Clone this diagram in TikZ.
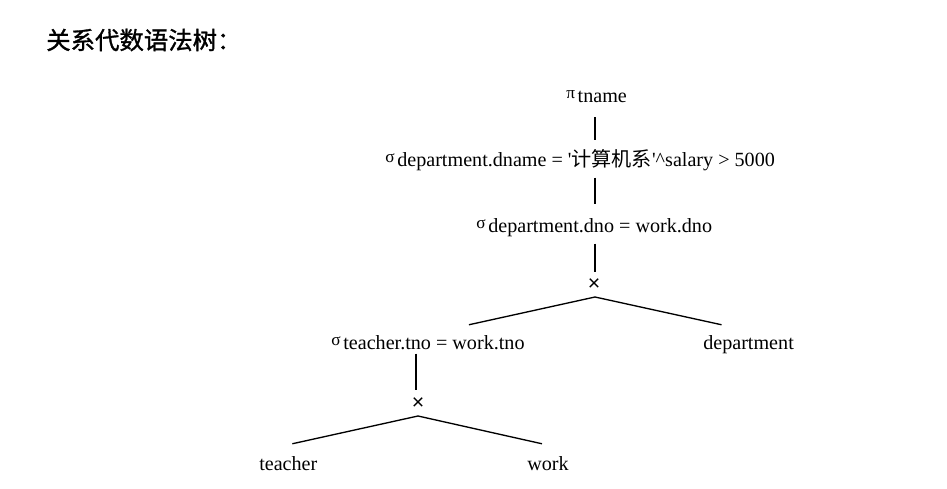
\documentclass[tikz,border=0pt]{standalone}
\usepackage{fontspec}
\setmainfont{Liberation Serif}
\newfontfamily\cjk{Noto Sans CJK SC}
\newfontfamily\cjkhead{Noto Sans CJK SC}[FakeBold=1.2]
\newfontfamily\opfont{Liberation Sans}
\usetikzlibrary{calc}
\newcommand{\opsym}[1]{\raisebox{3pt}{\fontsize{13}{13}\selectfont #1}\hspace{2pt}}
\tikzset{
  rel/.style={inner sep=0pt, anchor=base west, font=\fontsize{15.1}{17}\selectfont},
  prod/.style={inner sep=0pt, font=\opfont\fontsize{16}{16}\selectfont},
  edge/.style={line width=1pt, black},
}
\begin{document}
\begin{tikzpicture}[x=0.75pt, y=-0.75pt]
  \useasboundingbox (0,0) rectangle (947,489);
  % heading
  \node[anchor=west, inner sep=0pt, font=\cjkhead\fontsize{18.3}{20}\selectfont] (title) at (46,40) {关系代数语法树：};
  % operators, top to bottom
  \node[rel] (proj) at (566,102) {\opsym{π}tname};
  \node[rel] (seldn) at (385,166) {\opsym{σ}department.dname = \textquotesingle{\cjk 计算机系}\textquotesingle\textasciicircum salary > 5000};
  \node[rel] (seldno) at (476,232) {\opsym{σ}department.dno = work.dno};
  \node[prod] (xa) at (594,285) {×};
  \node[rel] (seltno) at (331,349) {\opsym{σ}teacher.tno = work.tno};
  \node[rel] (dept) at (703,349) {department};
  \node[prod] (xb) at (418,404) {×};
  \node[rel] (teach) at (259,470) {teacher};
  \node[rel] (work) at (527,470) {work};
  % tree edges
  \draw[edge] ($(xa |- proj.south)+(1,15)$) -- ($(xa |- seldn.north)+(1,-9)$);
  \draw[edge] ($(xa |- seldn.south)+(1,7)$) -- ($(xa |- seldno.north)+(1,-14)$);
  \draw[edge] ($(xa |- seldno.south)+(1,7)$) -- ($(xa.center)+(1,-13)$);
  \draw[edge] ($(seltno.north)+(41,-10)$) -- ($(xa.center)+(1,12)$) -- ($(dept.north)+(-27,-10)$);
  \draw[edge] ($(xb |- seltno.south)+(-2,4)$) -- ($(xb.center)+(-2,-14)$);
  \draw[edge] ($(teach.north)+(4,-12)$) -- ($(xb.center)+(0,12)$) -- ($(work.north)+(-6,-12)$);
\end{tikzpicture}
\end{document}
